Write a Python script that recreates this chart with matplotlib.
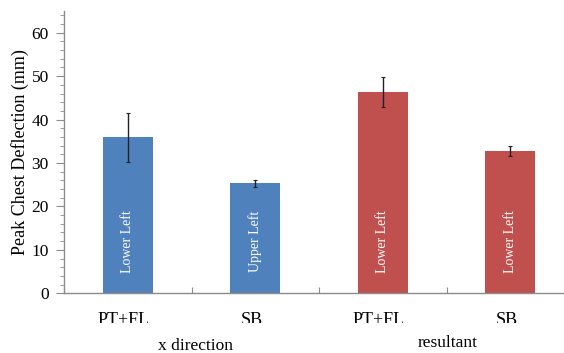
import matplotlib as mpl
import matplotlib.pyplot as plt
from matplotlib.ticker import MultipleLocator
from matplotlib.transforms import Bbox

mpl.rcParams.update({
    "font.family": ["Liberation Serif", "DejaVu Serif"],
    "font.size": 10,
})

# peak chest deflection, mean and error, per impact condition
categories = ["PT+FL", "SB", "PT+FL", "SB"]
groups = ["x direction", "resultant"]
deflection = [35.9, 25.3, 46.3, 32.8]
deflection_err = [5.6, 0.9, 3.4, 1.1]
bar_notes = ["Lower Left", "Upper Left", "Lower Left", "Lower Left"]
bar_colors = ["#4F81BD", "#4F81BD", "#C0504D", "#C0504D"]

AX_GRAY = "#8c8c8c"

fig = plt.figure(figsize=(5.64, 3.53), dpi=100)
ax = fig.add_axes([64 / 564, 59.7 / 353, 510 / 564, 282.3 / 353])

xs = list(range(len(categories)))
ax.bar(xs, deflection, width=0.39, color=bar_colors, zorder=2)
ax.errorbar(xs, deflection, yerr=deflection_err, fmt="none",
            ecolor="#222222", elinewidth=1.0, capsize=1.6, capthick=0.8,
            zorder=3)

for x, note in zip(xs, bar_notes):
    ax.text(x, 12.0, note, rotation=90, ha="center", va="center",
            color="white", fontsize=10, zorder=4)

ax.set_xlim(-0.5, len(categories) - 0.5)
ax.set_ylim(0, 65)
ax.yaxis.set_minor_locator(MultipleLocator(2))
ax.set_yticks(range(0, 61, 10))
ax.tick_params(axis="y", which="major", direction="out", length=6,
               color=AX_GRAY, labelsize=12.5, pad=5)
ax.tick_params(axis="y", which="minor", direction="out", length=3,
               color=AX_GRAY)

# category boundaries as inward ticks, labels drawn separately
ax.set_xticks([x - 0.5 for x in range(len(categories) + 1)])
ax.set_xticklabels([])
ax.tick_params(axis="x", direction="in", length=4, color=AX_GRAY)

for side in ("top", "right"):
    ax.spines[side].set_visible(False)
for side in ("left", "bottom"):
    ax.spines[side].set_color(AX_GRAY)
    ax.spines[side].set_linewidth(1.0)

ax.set_ylabel("Peak Chest Deflection (mm)", fontsize=13, labelpad=2)

# category names sit on a cut-off strip, lower part of the glyphs hidden
clip = Bbox.from_extents(0, 353 - 322.5, 564, 353)
for x, name in zip(xs, categories):
    t = ax.text(x - 0.03, -7.4, name, ha="center", va="baseline",
                fontsize=13, clip_on=False)
    t.set_clip_box(clip)
    t.set_clip_on(True)

ax.text(0.53, -13.0, groups[0], ha="center", va="baseline",
        fontsize=12.5, clip_on=False)
ax.text(2.51, -12.4, groups[1], ha="center", va="baseline",
        fontsize=12.5, clip_on=False)

fig.savefig("out.png", dpi=100)
